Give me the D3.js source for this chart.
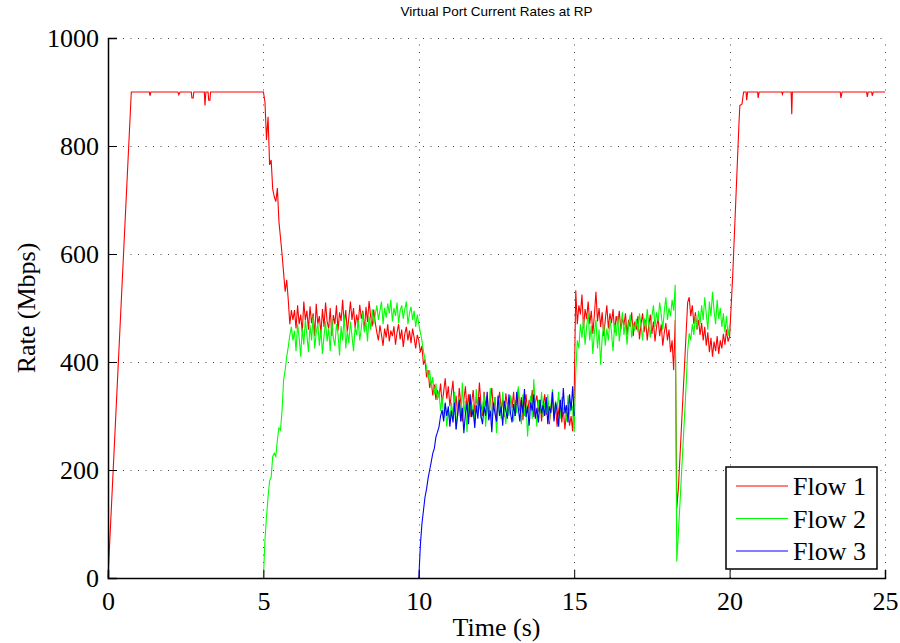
<!DOCTYPE html>
<html>
<head>
<meta charset="utf-8">
<script src="https://cdn.jsdelivr.net/npm/d3@7"></script>
<style>
  html, body { margin: 0; padding: 0; background: #fff; }
  svg { display: block; }
</style>
</head>
<body>
<svg id="chart" width="900" height="643"></svg>
<script>
// ---------- DATA ----------
const chartTitle = "Virtual Port Current Rates at RP";
const xLabel = "Time (s)";
const yLabel = "Rate (Mbps)";
const xTicks = [0, 5, 10, 15, 20, 25];
const yTicks = [0, 200, 400, 600, 800, 1000];
const seriesNames = ["Flow 1", "Flow 2", "Flow 3"];
const seriesColors = ["#ff0000", "#00ff00", "#0000ff"];

// sampling of the dense parts (seconds)
const sampleStep = 0.05;

// Flow 1: ramp and plateau before t=5 (time, Mbps)
const flow1Head = [
  [0, 0], [0.75, 900], [1.33, 900], [1.35, 893], [1.38, 900], [2.25, 900], [2.28, 895], [2.32, 900],
  [2.68, 900], [2.70, 889], [2.74, 889], [2.76, 900], [3.10, 900], [3.12, 875], [3.15, 900],
  [3.22, 900], [3.24, 885], [3.28, 885], [3.30, 900]
];
// Flow 1: t = 5.00 .. 20.00, every 0.05 s
const flow1DenseStart = 5.0;
const flow1Dense = [
  900,
  882, 811, 854, 765, 774, 720, 706, 697, 722, 660, 630, 600, 565, 530, 552, 515, 470, 496, 478, 496,
  462, 505, 470, 488, 455, 512, 478, 495, 460, 503, 472, 490, 448, 508, 470, 485, 452, 498, 465, 510,
  475, 462, 500, 448, 487, 470, 505, 458, 492, 476, 515, 468, 496, 455, 482, 512, 478, 500, 463, 488,
  470, 506, 480, 495, 458, 502, 474, 513, 485, 466, 497, 472, 455, 440, 468, 450, 430, 462, 445, 470,
  438, 458, 448, 466, 432, 455, 470, 442, 460, 428, 452, 465, 440, 458, 435, 462, 445, 425, 450, 440,
  418, 430, 395, 405, 372, 385, 352, 365, 338, 358, 330, 348, 335, 360, 322, 345, 370, 332, 355, 318,
  342, 365, 310, 338, 300, 352, 325, 290, 330, 355, 312, 340, 298, 325, 348, 305, 335, 315, 362, 322,
  300, 345, 318, 338, 295, 328, 352, 310, 335, 288, 322, 345, 312, 330, 298, 342, 320, 305, 338, 315,
  345, 300, 328, 350, 310, 335, 292, 325, 340, 305, 330, 315, 348, 298, 325, 338, 308, 330, 290, 320,
  340, 302, 328, 285, 315, 335, 295, 320, 280, 310, 330, 288, 315, 275, 305, 325, 282, 300, 272, 340,
  533, 470, 505, 488, 525, 462, 498, 480, 512, 470, 495, 452, 488, 530, 475, 500, 465, 492, 448, 478,
  505, 462, 490, 472, 498, 455, 485, 470, 495, 460, 482, 468, 490, 450, 478, 465, 492, 448, 475, 460,
  485, 442, 470, 490, 455, 478, 440, 468, 488, 452, 475, 438, 465, 482, 448, 470, 430, 455, 472, 440,
  460, 418, 440, 385, 478, 129, 164, 221, 279, 337, 394, 452, 510, 520, 485, 505, 470, 492, 460, 478,
  450, 472, 440, 465, 430, 455, 418, 445, 410, 438, 420, 448, 415, 440, 425, 452, 432, 460, 438, 447
];
// Flow 1: recovery and plateau after t=20 (time, Mbps)
const flow1Tail = [
  [20.10, 560], [20.20, 700], [20.30, 840], [20.33, 875], [20.40, 878], [20.45, 900],
  [20.53, 900], [20.55, 885], [20.58, 900], [20.90, 900], [20.92, 889], [20.95, 900],
  [21.68, 900], [21.70, 896], [21.72, 900], [21.98, 900], [22.00, 859], [22.02, 900],
  [23.56, 900], [23.58, 889], [23.62, 900], [24.41, 900], [24.43, 891], [24.46, 900],
  [24.57, 900], [24.59, 893], [24.62, 900], [25.0, 900]
];

// Flow 2: t = 5.00 .. 20.00, every 0.05 s
const flow2DenseStart = 5.0;
const flow2Dense = [
  0,
  70, 113, 150, 180, 187, 225, 231, 225, 256, 278, 274, 310, 367, 385, 410, 428, 450, 465, 440, 458,
  420, 470, 445, 410, 462, 432, 478, 450, 418, 468, 440, 485, 425, 455, 472, 430, 460, 415, 448, 475,
  438, 462, 420, 480, 445, 430, 470, 452, 412, 466, 440, 488, 425, 458, 435, 475, 448, 420, 465, 450,
  478, 440, 462, 492, 455, 475, 438, 485, 460, 498, 470, 488, 505, 478, 495, 512, 470, 500, 482, 508,
  490, 515, 475, 500, 485, 510, 472, 495, 505, 480, 498, 512, 470, 490, 502, 478, 495, 465, 488, 470,
  455, 440, 420, 404, 390, 370, 385, 354, 372, 340, 360, 330, 345, 310, 335, 295, 322, 280, 312, 290,
  325, 300, 345, 275, 318, 335, 290, 362, 305, 328, 270, 315, 340, 298, 322, 285, 350, 308, 330, 295,
  315, 340, 280, 325, 305, 352, 290, 318, 335, 268, 310, 330, 295, 345, 312, 285, 325, 300, 338, 310,
  290, 330, 305, 355, 318, 285, 340, 300, 325, 262, 310, 338, 295, 368, 315, 280, 330, 305, 345, 298,
  325, 305, 340, 290, 318, 350, 300, 328, 312, 345, 295, 335, 308, 320, 290, 338, 302, 325, 315, 270,
  380, 440, 425, 470, 445, 480, 432, 465, 490, 440, 468, 415, 455, 478, 425, 460, 395, 445, 470, 430,
  462, 440, 478, 455, 420, 470, 448, 485, 438, 465, 492, 450, 475, 432, 468, 488, 445, 472, 458, 480,
  455, 490, 468, 440, 482, 462, 498, 470, 445, 485, 505, 465, 492, 475, 510, 488, 460, 495, 520, 478,
  500, 485, 515, 495, 543, 30, 80, 135, 190, 245, 300, 355, 420, 453, 440, 470, 450, 485, 462, 495,
  470, 505, 478, 520, 488, 460, 512, 485, 530, 495, 470, 515, 480, 500, 465, 490, 455, 485, 448, 470
];

// Flow 3: t = 10.00 .. 15.00, every 0.05 s
const flow3DenseStart = 10.0;
const flow3Dense = [
  0,
  60, 100, 125, 150, 165, 185, 200, 215, 231, 240, 261, 270, 280, 300, 311, 290, 325, 300, 318, 280,
  310, 288, 325, 275, 302, 330, 290, 315, 268, 305, 322, 285, 340, 298, 312, 278, 320, 295, 335, 300,
  285, 318, 300, 345, 292, 310, 270, 325, 305, 290, 338, 300, 318, 282, 328, 310, 295, 340, 305, 288,
  322, 300, 345, 315, 290, 330, 305, 350, 298, 318, 282, 325, 310, 340, 295, 315, 288, 330, 305, 320,
  300, 335, 285, 318, 305, 345, 290, 325, 310, 280, 330, 298, 352, 305, 320, 288, 340, 310, 355, 300
];

// ---------- BUILD SERIES ----------
function dense(start, values) {
  return values.map((v, i) => [+(start + i * sampleStep).toFixed(2), v]);
}
const series = [
  flow1Head.concat(dense(flow1DenseStart, flow1Dense), flow1Tail),
  dense(flow2DenseStart, flow2Dense),
  dense(flow3DenseStart, flow3Dense)
];

// ---------- LAYOUT ----------
const svg = d3.select("#chart");
const W = 900, H = 643;
const m = { left: 108, right: 15, top: 38, bottom: 65 };
const x = d3.scaleLinear().domain([0, 25]).range([m.left, W - m.right]);
const y = d3.scaleLinear().domain([0, 1000]).range([H - m.bottom, m.top]);
const serif = "'Liberation Serif', 'Times New Roman', serif";

// grid
const grid = svg.append("g").attr("stroke", "#444").attr("stroke-width", 1)
  .attr("stroke-dasharray", "1,6.5").attr("fill", "none");
grid.selectAll("line.h").data(yTicks.filter(d => d > 0)).join("line")
  .attr("x1", x(0)).attr("x2", x(25))
  .attr("y1", d => Math.round(y(d)) + 0.5).attr("y2", d => Math.round(y(d)) + 0.5);
grid.selectAll("line.v").data(xTicks.filter(d => d > 0)).join("line")
  .attr("x1", d => Math.round(x(d)) + 0.5).attr("x2", d => Math.round(x(d)) + 0.5)
  .attr("y1", y(0)).attr("y2", y(1000));

// series
const line = d3.line().x(d => x(d[0])).y(d => y(d[1]));
svg.append("g").selectAll("path").data(series).join("path")
  .attr("d", line)
  .attr("fill", "none")
  .attr("stroke", (d, i) => seriesColors[i])
  .attr("stroke-width", 1.1)
  .attr("stroke-linejoin", "miter");

// axes (ticks inward, MATLAB style)
const xAxis = d3.axisBottom(x).tickValues(xTicks).tickSize(-8).tickPadding(14).tickFormat(d3.format("d"));
const yAxis = d3.axisLeft(y).tickValues(yTicks).tickSize(-9).tickPadding(9).tickFormat(d3.format("d"));

const gx = svg.append("g").attr("transform", `translate(0,${y(0)})`).call(xAxis);
const gy = svg.append("g").attr("transform", `translate(${x(0)},0)`).call(yAxis);
[gx, gy].forEach(g => {
  g.select(".domain").attr("stroke", "#000").attr("stroke-width", 1.5);
  g.selectAll(".tick line").attr("stroke", "#000").attr("stroke-width", 1);
  g.selectAll(".tick text").attr("font-family", serif).attr("font-size", 26).attr("fill", "#000");
});
gx.selectAll(".tick text").attr("dy", "0.71em");

// axis labels
svg.append("text").attr("x", (x(0) + x(25)) / 2).attr("y", 636)
  .attr("text-anchor", "middle").attr("font-family", serif).attr("font-size", 26)
  .text(xLabel);
svg.append("text").attr("transform", `translate(35,${(y(0) + y(1000)) / 2}) rotate(-90)`)
  .attr("text-anchor", "middle").attr("font-family", serif).attr("font-size", 26)
  .text(yLabel);

// title
svg.append("text").attr("x", (x(0) + x(25)) / 2).attr("y", 16)
  .attr("text-anchor", "middle").attr("font-family", "'Liberation Sans', Arial, sans-serif")
  .attr("font-size", 13.5).text(chartTitle);

// legend
const lg = svg.append("g").attr("transform", "translate(726,467)");
lg.append("rect").attr("width", 151).attr("height", 102)
  .attr("fill", "#fff").attr("stroke", "#000").attr("stroke-width", 1.5);
seriesNames.forEach((name, i) => {
  const ly = 19 + i * 32.5;
  lg.append("line").attr("x1", 10).attr("x2", 62).attr("y1", ly).attr("y2", ly)
    .attr("stroke", seriesColors[i]).attr("stroke-width", 1.1);
  lg.append("text").attr("x", 67).attr("y", ly + 9)
    .attr("font-family", serif).attr("font-size", 26).text(name);
});
</script>
</body>
</html>
